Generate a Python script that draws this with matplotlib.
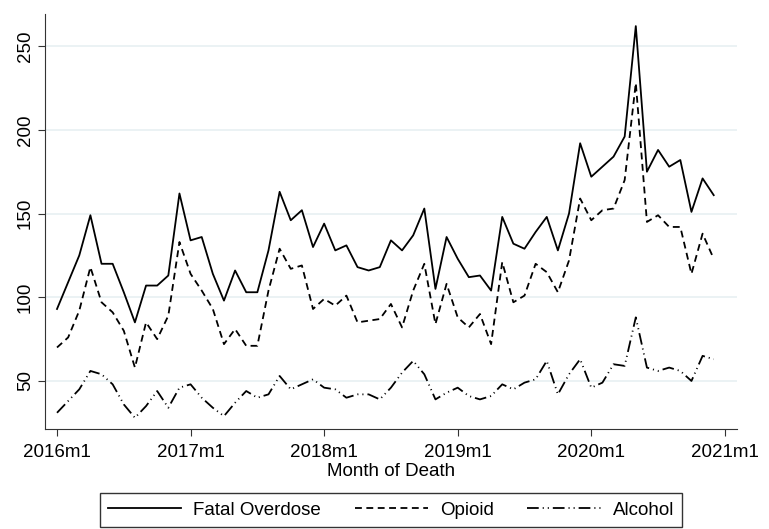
import matplotlib
matplotlib.use('Agg')
import matplotlib.pyplot as plt

plt.rcParams['font.family'] = ['Liberation Sans', 'DejaVu Sans']

# monthly deaths, 2016m1 .. 2020m12
fatal = [93, 109, 125, 149, 120, 120, 103, 85, 107, 107, 113, 162,
         134, 136, 114, 98, 116, 103, 103, 128, 163, 146, 152, 130,
         144, 128, 131, 118, 116, 118, 134, 128, 137, 153, 105, 136,
         123, 112, 113, 104, 148, 132, 129, 139, 148, 128, 150, 192,
         172, 178, 184, 196, 262, 175, 188, 178, 182, 151, 171, 161]
opioid = [70, 76, 92, 118, 97, 91, 80, 58, 85, 75, 89, 133,
          114, 104, 93, 72, 81, 71, 71, 104, 129, 117, 119, 93,
          99, 95, 101, 85, 86, 87, 96, 82, 104, 120, 84, 108,
          88, 82, 90, 72, 121, 97, 101, 120, 115, 103, 122, 159,
          146, 152, 153, 170, 228, 145, 149, 142, 142, 114, 138, 123]
alcohol = [31, 38, 45, 56, 54, 48, 36, 28, 35, 44, 34, 46,
           48, 40, 34, 29, 37, 44, 40, 42, 53, 45, 48, 51,
           46, 45, 40, 42, 42, 39, 46, 55, 62, 54, 39, 43,
           46, 41, 39, 41, 48, 45, 49, 51, 62, 42, 54, 63,
           46, 49, 60, 59, 88, 58, 56, 58, 56, 50, 65, 63]
tick_pos = [0, 12, 24, 36, 48, 60]
tick_labels = ['2016m1', '2017m1', '2018m1', '2019m1', '2020m1', '2021m1']
y_ticks = [50, 100, 150, 200, 250]

months = list(range(len(fatal)))

fig = plt.figure(figsize=(7.69, 5.29), dpi=100)
ax = fig.add_axes([0.0585, 0.189, 0.9, 0.7845])

ax.plot(months, fatal, color='black', lw=1.3, label='Fatal Overdose')
ax.plot(months, opioid, color='black', lw=1.3, dashes=(3.8, 2.5), label='Opioid')
ax.plot(months, alcohol, color='black', lw=1.3,
        dashes=(6.5, 2.2, 0.6, 2.2, 0.6, 2.2), label='Alcohol')

ax.set_xlim(-1.08, 61.1)
ax.set_ylim(21.3, 269.2)
ax.set_xticks(tick_pos)
ax.set_xticklabels(tick_labels, fontsize=13.5)
ax.set_yticks(y_ticks)
ax.set_yticklabels([str(v) for v in y_ticks], fontsize=13.5, rotation=90, va='center')
ax.grid(axis='y', color='#e8f0f2', lw=1.2)
ax.set_axisbelow(True)
for side in ['top', 'right']:
    ax.spines[side].set_visible(False)
for side in ['left', 'bottom']:
    ax.spines[side].set_color('#333333')
ax.tick_params(axis='both', length=5, color='#333333', pad=3)
ax.tick_params(axis='x', pad=6)
ax.set_xlabel('Month of Death', fontsize=13.5, labelpad=1)

leg = fig.legend(loc='center', bbox_to_anchor=(0.5085, 0.036), ncol=3, fontsize=13.5,
                 frameon=True, fancybox=False, handlelength=3.9, columnspacing=1.8,
                 handletextpad=0.64, borderpad=0.45)
leg.get_frame().set_edgecolor('black')
leg.get_frame().set_linewidth(1.0)

fig.savefig('out.png', dpi=100)
